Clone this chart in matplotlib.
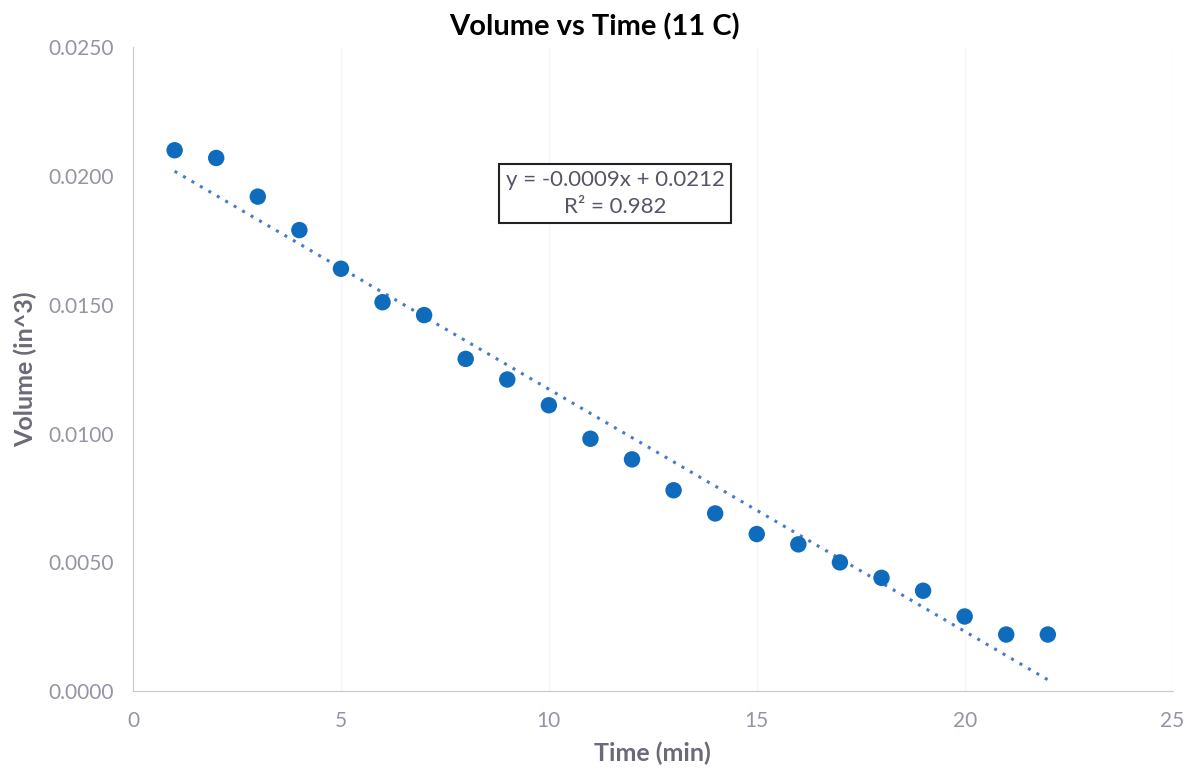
import numpy as np
import matplotlib.pyplot as plt

# dati
time_min = [1, 2, 3, 4, 5, 6, 7, 8, 9, 10, 11, 12, 13, 14, 15, 16, 17, 18, 19, 20, 21, 22]
volume_in3 = [0.0210, 0.0207, 0.0192, 0.0179, 0.0164, 0.0151, 0.0146, 0.0129, 0.0121, 0.0111,
              0.0098, 0.0090, 0.0078, 0.0069, 0.0061, 0.0057, 0.0050, 0.0044, 0.0039, 0.0029,
              0.0022, 0.0022]
x_ticks = [0, 5, 10, 15, 20, 25]
y_ticks = [0.0, 0.005, 0.010, 0.015, 0.020, 0.025]
eq_label = "y = -0.0009x + 0.0212\nR² = 0.982"

plt.rcParams['font.family'] = ['Lato', 'DejaVu Sans']

x = np.array(time_min)
y = np.array(volume_in3)

# trendline lineare (come Excel)
slope, intercept = np.polyfit(x, y, 1)
x_fit = np.array([x.min(), x.max()])

fig = plt.figure(figsize=(11.88, 7.74), dpi=100)
ax = fig.add_axes([0.112, 0.107, 0.875, 0.832])

ax.plot(x_fit, slope * x_fit + intercept, linestyle=(0, (1, 2.2)), color="#4a7cc4", linewidth=2.2, zorder=2)
ax.scatter(x, y, s=140, color="#0f6cbd", zorder=3, edgecolors="none")

ax.set_xlim(0, 25)
ax.set_ylim(0, 0.025)
ax.set_xticks(x_ticks)
ax.set_yticks(y_ticks)
ax.set_yticklabels([f"{v:.4f}" for v in y_ticks])
ax.tick_params(colors="#9494a4", labelsize=15, length=0)
ax.tick_params(axis="y", pad=14)
ax.tick_params(axis="x", pad=14)

ax.grid(axis="x", color="#f7f7f9", linewidth=1)
for s in ["top", "right"]:
    ax.spines[s].set_visible(False)
for s in ["left", "bottom"]:
    ax.spines[s].set_color("#c8c8d0")

# titolo centrato sulla figura, non sugli assi
fig.text(0.5, 1 - 27 / 774, "Volume vs Time (11 C)", ha="center", va="center",
         fontsize=21, fontweight="bold")
ax.set_xlabel("Time (min)", fontsize=18, fontweight="bold", color="#6a6a78", labelpad=8)
ax.set_ylabel("Volume (in^3)", fontsize=18, fontweight="bold", color="#6a6a78", labelpad=8)

ax.text(0.464, 0.773, eq_label, transform=ax.transAxes, ha="center", va="center",
        fontsize=16, color="#555566", linespacing=1.4,
        bbox=dict(boxstyle="square,pad=0.3", facecolor="white", edgecolor="#222222", linewidth=1.5))

fig.savefig("out.png", dpi=100)
